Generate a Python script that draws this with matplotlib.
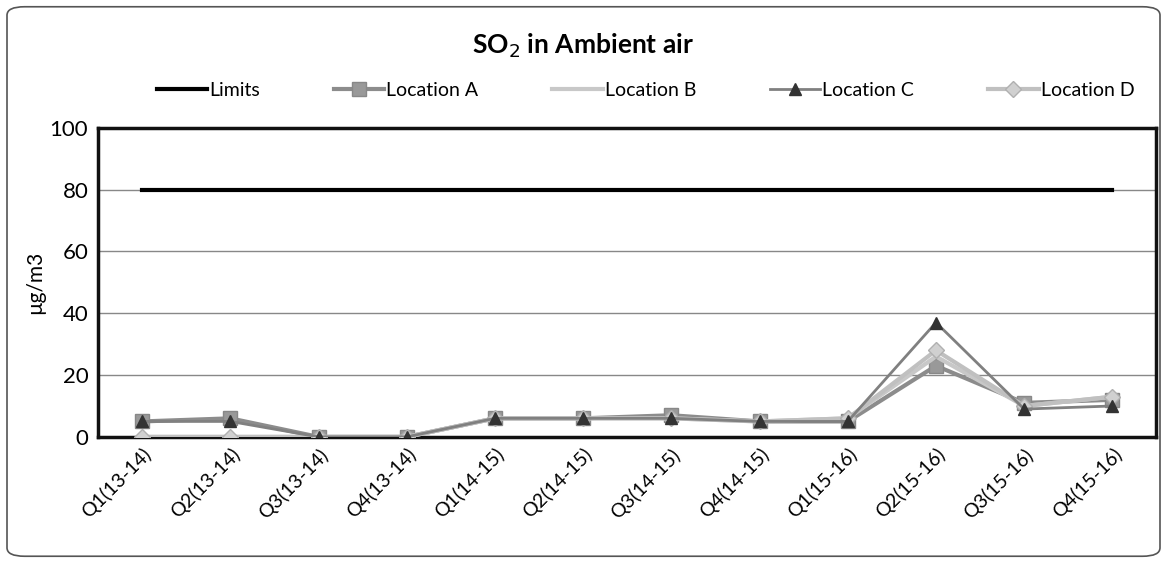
import matplotlib.pyplot as plt
from matplotlib.patches import FancyBboxPatch
import numpy as np

plt.rcParams['font.family'] = ['Lato', 'DejaVu Sans']

quarters = ['Q1(13-14)', 'Q2(13-14)', 'Q3(13-14)', 'Q4(13-14)',
            'Q1(14-15)', 'Q2(14-15)', 'Q3(14-15)', 'Q4(14-15)',
            'Q1(15-16)', 'Q2(15-16)', 'Q3(15-16)', 'Q4(15-16)']
limits = [80] * 12
loc_a = [5, 6, 0, 0, 6, 6, 7, 5, 5, 23, 11, 12]
loc_b = [0, 0, 0, 0, 6, 6, 6, 5, 6, 26, 10, 13]
loc_c = [5, 5, 0, 0, 6, 6, 6, 5, 5, 37, 9, 10]
loc_d = [0, 0, 0, 0, 6, 6, 6, 5, 6, 28, 10, 13]

fig = plt.figure(figsize=(11.67, 5.63), dpi=100)
ax = fig.add_axes([0.084, 0.224, 0.907, 0.549])

# rounded outer border
border = FancyBboxPatch((0.006, 0.012), 0.988, 0.976, boxstyle="round,pad=0,rounding_size=0.015",
                        transform=fig.transFigure, fill=False, edgecolor='#555555', lw=1.2)
fig.patches.append(border)

x = np.arange(len(quarters))
ax.plot(x, limits, color='black', lw=3, label='Limits', zorder=3)
ax.plot(x, loc_a, color='#8c8c8c', lw=3, marker='s', ms=10, mfc='#999999', mec='#888888',
        label='Location A', zorder=4)
ax.plot(x, loc_b, color='#c8c8c8', lw=3, label='Location B', zorder=4)
ax.plot(x, loc_c, color='#808080', lw=2, marker='^', ms=9, mfc='#333333', mec='#333333',
        label='Location C', zorder=5)
ax.plot(x, loc_d, color='#c0c0c0', lw=3, marker='D', ms=8, mfc='#d0d0d0', mec='#b0b0b0',
        label='Location D', zorder=4)

ax.set_xlim(-0.5, len(quarters) - 0.5)
ax.set_ylim(0, 100)
ax.set_yticks([0, 20, 40, 60, 80, 100])
ax.tick_params(axis='y', labelsize=16, length=0, pad=7)
ax.tick_params(axis='x', labelsize=14, length=0, pad=6)
ax.set_xticks(x)
ax.set_xticklabels(quarters, rotation=45, ha='right', rotation_mode='anchor')
ax.yaxis.grid(True, color='#888888', lw=1)
ax.set_axisbelow(True)
for s in ax.spines.values():
    s.set_linewidth(2.5)
    s.set_color('#111111')
ax.set_ylabel('µg/m3', fontsize=15, labelpad=3)

fig.text(0.5, 0.918, 'SO$_2$ in Ambient air', ha='center', va='center',
         fontsize=19, fontweight='bold')
fig.legend(loc='center', bbox_to_anchor=(0.553, 0.84), ncol=5, frameon=False,
           fontsize=14, handlelength=2.6, columnspacing=3.8, handletextpad=0.1)

fig.savefig('out.png', dpi=100)
